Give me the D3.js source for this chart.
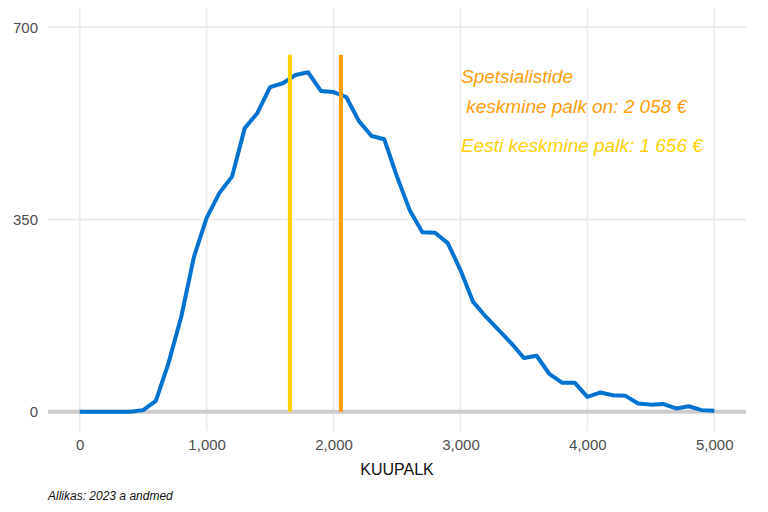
<!DOCTYPE html>
<html>
<head>
<meta charset="utf-8">
<script src="https://cdn.jsdelivr.net/npm/d3@7"></script>
<style>
  body { margin: 0; background: #fff; font-family: "Liberation Sans", Arial, sans-serif; }
  .grid line { stroke: #ebebeb; stroke-width: 1.8; }
  .tick text { fill: #4d4d4d; font-size: 15px; }
</style>
</head>
<body>
<div id="chart"></div>
<script>
// monthly salary (step 100) and count
var salaries = d3.range(0, 5001, 100);
var counts = [0, 0, 0, 0, 0, 3, 20, 89, 173, 282,
    353, 398, 428, 516, 544, 591, 598, 613, 618, 584,
    582, 573, 529, 502, 496, 428, 367, 327, 326, 307,
    258, 200, 173, 149, 125, 98, 102, 69, 53, 53,
    27, 35, 30, 29, 15, 13, 14, 6, 10, 3, 2];
var xTicks = [0, 1000, 2000, 3000, 4000, 5000];
var yTicks = [0, 350, 700];
var specialistAvg = 2058;
var estoniaAvg = 1656;
var lineTop = 650;

var svgWidth = 768, svgHeight = 512;
var svg = d3.select("#chart").append("svg")
    .attr("width", svgWidth)
    .attr("height", svgHeight);

var xScale = d3.scaleLinear().domain([-250, 5250]).range([48, 746]);
var yScale = d3.scaleLinear().domain([-35, 735]).range([431, 8]);

// gridlines
var grid = svg.append("g").attr("class", "grid");
grid.selectAll(".h").data(yTicks).enter().append("line")
    .attr("x1", 48).attr("x2", 746)
    .attr("y1", d => yScale(d)).attr("y2", d => yScale(d));
grid.selectAll(".v").data(xTicks).enter().append("line")
    .attr("y1", 8).attr("y2", 431)
    .attr("x1", d => xScale(d)).attr("x2", d => xScale(d));

// axes (labels only)
var bottomAxis = d3.axisBottom(xScale).tickValues(xTicks).tickSize(0).tickPadding(8);
var leftAxis = d3.axisLeft(yScale).tickValues(yTicks).tickSize(0).tickPadding(8);
svg.append("g").attr("transform", "translate(0,431)").call(bottomAxis)
    .call(g => g.select(".domain").remove());
svg.append("g").attr("transform", "translate(46,0)").call(leftAxis)
    .call(g => g.select(".domain").remove());

// zero line
svg.append("line")
    .attr("x1", 48).attr("x2", 746)
    .attr("y1", yScale(0)).attr("y2", yScale(0))
    .attr("stroke", "#cccccc").attr("stroke-width", 4);

// salary curve
var line = d3.line()
    .x((d, i) => xScale(salaries[i]))
    .y(d => yScale(d));
svg.append("path")
    .datum(counts)
    .attr("fill", "none")
    .attr("stroke", "#0073d1")
    .attr("stroke-width", 4)
    .attr("stroke-linejoin", "round")
    .attr("d", line);

// average lines
svg.append("line")
    .attr("x1", xScale(estoniaAvg)).attr("x2", xScale(estoniaAvg))
    .attr("y1", yScale(0)).attr("y2", yScale(lineTop))
    .attr("stroke", "#ffd100").attr("stroke-width", 4);
svg.append("line")
    .attr("x1", xScale(specialistAvg)).attr("x2", xScale(specialistAvg))
    .attr("y1", yScale(0)).attr("y2", yScale(lineTop))
    .attr("stroke", "#ff9e0b").attr("stroke-width", 4);

// annotations
var ann = svg.append("g").attr("font-style", "italic").attr("font-size", 19);
ann.append("text").attr("x", 461).attr("y", 83).attr("fill", "#ff9e0b").text("Spetsialistide");
ann.append("text").attr("x", 461).attr("y", 113).attr("fill", "#ff9e0b")
    .attr("xml:space", "preserve").text(" keskmine palk on: 2 058 €");
ann.append("text").attr("x", 461).attr("y", 152).attr("fill", "#ffd100").text("Eesti keskmine palk: 1 656 €");

// titles
svg.append("text").attr("x", 397).attr("y", 475).attr("text-anchor", "middle")
    .attr("font-size", 16).attr("fill", "#111").text("KUUPALK");
svg.append("text").attr("x", 48).attr("y", 500)
    .attr("font-size", 12).attr("font-style", "italic").attr("fill", "#111")
    .text("Allikas: 2023 a andmed");
</script>
</body>
</html>
